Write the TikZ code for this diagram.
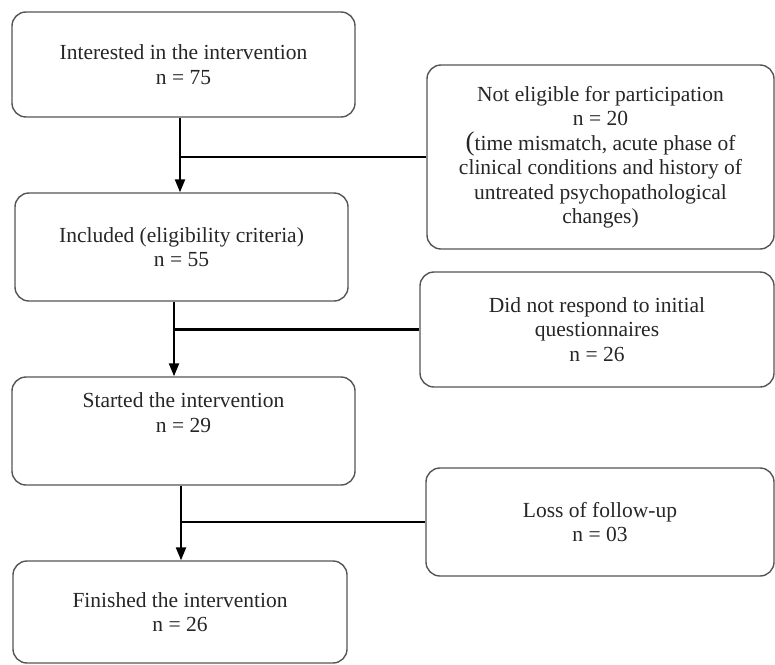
\documentclass[tikz,border=0pt]{standalone}
\usepackage{fontspec}
\setmainfont{Liberation Serif}
\usetikzlibrary{arrows.meta}
\definecolor{boxgray}{HTML}{555555}
\definecolor{txt}{HTML}{262626}
\begin{document}
\begin{tikzpicture}[x=1pt,y=-1pt,
  box/.style={draw=boxgray, line width=1.4pt, rounded corners=14pt, align=center,
    inner sep=0pt, text=txt, font=\fontsize{21.5}{24.5}\selectfont},
  conn/.style={line width=2.2pt, draw=black},
  arr/.style={conn, -{Triangle[length=13pt,width=10pt]}}]
\useasboundingbox (0,0) rectangle (775,664);
\fill[white] (0,0) rectangle (775,664);

\node[box, minimum width=343pt, minimum height=105pt] (b1) at (183.5,64.5)
  {Interested in the intervention\\ n = 75};
\node[box, minimum width=347pt, minimum height=184pt] (ne) at (600.5,157)
  {Not eligible for participation\\ n = 20\\
   \smash{\fontsize{27}{24.5}\selectfont(}time mismatch, acute phase of\\
   clinical conditions and history of\\ untreated psychopathological\\ changes)};
\node[box, minimum width=333pt, minimum height=108pt] (b2) at (181.5,247)
  {Included (eligibility criteria)\\ n = 55};
\node[box, minimum width=354pt, minimum height=115pt] (dnr) at (597,329.5)
  {Did not respond to initial\\ questionnaires\\ n = 26};
\node[box, minimum width=343pt, minimum height=108pt] (b3) at (183.5,431)
  {Started the intervention\\ n = 29\\[12pt]};
\node[box, minimum width=348pt, minimum height=108pt] (loss) at (600,522)
  {Loss of follow-up\\ n = 03};
\node[box, minimum width=334pt, minimum height=102pt] (b4) at (180,612)
  {Finished the intervention\\ n = 26};

\coordinate (c1) at (180,0);
\coordinate (c2) at (174,0);
\coordinate (c3) at (181,0);

\draw[arr] (b1.south -| c1) -- (b2.north -| c1);
\draw[conn] (ne.west -| c1) -- (ne.west);
\draw[arr] (b2.south -| c2) -- (b3.north -| c2);
\draw[conn] (dnr.west -| c2) -- (dnr.west);
\draw[arr] (b3.south -| c3) -- (b4.north -| c3);
\draw[conn] (loss.west -| c3) -- (loss.west);
\end{tikzpicture}
\end{document}
